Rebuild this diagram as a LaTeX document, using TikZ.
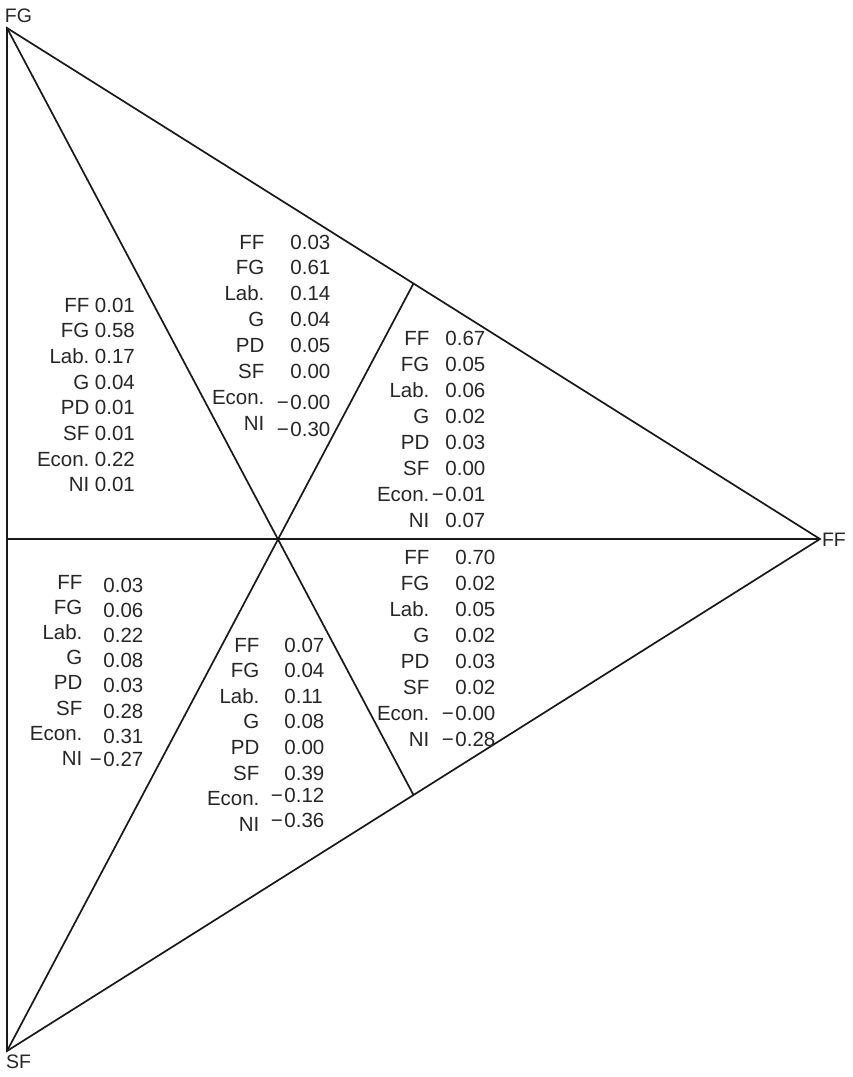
\documentclass[tikz,border=0pt]{standalone}
\usepackage{fontspec}
\setmainfont{Liberation Sans}
\usepackage{array}
\newcommand{\mn}{\llap{−\kern1.5pt}}
\newcommand{\dn}[2]{\raisebox{-#1pt}{#2}}
\newcommand{\blk}[3]{{\fontsize{20.5}{#2}\selectfont\begin{tabular}[t]{@{}r@{\hspace{#1pt}}l@{}}#3\end{tabular}}}
\tikzset{
  edge/.style={line width=1.7pt, black!90},
  blkn/.style={inner sep=0pt, outer sep=0pt, anchor=base west, text=black!85},
  vlab/.style={inner sep=0pt, outer sep=0pt, anchor=base west, font=\fontsize{19.5}{24}\selectfont, text=black!85}
}
\begin{document}
\begin{tikzpicture}[x=1pt,y=-1pt]
\useasboundingbox (0,0) rectangle (853,1077);
\coordinate (FG) at (7,28);
\coordinate (FF) at (820,539);
\coordinate (SF) at (7,1051);
\coordinate (mA) at (413.5,283.5);
\coordinate (mB) at (413.5,795);
\coordinate (mC) at (7,539);
\draw[edge, line join=miter] (FG) -- (FF) -- (SF) -- cycle;
\draw[edge] (FG) -- (mB);
\draw[edge] (SF) -- (mA);
\draw[edge] (mC) -- (FF);
\node[vlab] (tFG) at (5,22) {FG};
\node[vlab] (tSF) at (6,1068) {SF};
\node[vlab] (tFF) at (822,546) {FF};
% top-left
\node[blkn] (bA) at (37,312) {\blk{5.5}{25.7}{FF & 0.01\\ FG & 0.58\\ Lab. & 0.17\\ G & 0.04\\ PD & 0.01\\ SF & 0.01\\ Econ. & 0.22\\ NI & 0.01}};
% top-middle
\node[blkn] (bB) at (212,249) {\blk{26}{25.9}{FF & 0.03\\ FG & 0.61\\ Lab. & 0.14\\ G & 0.04\\ PD & 0.05\\ SF & 0.00\\ Econ. & \dn{5}{\mn 0.00}\\ NI & \dn{6}{\mn 0.30}}};
% right upper
\node[blkn] (bC) at (377,345) {\blk{16}{26}{FF & 0.67\\ FG & 0.05\\ Lab. & 0.06\\ G & 0.02\\ PD & 0.03\\ SF & 0.00\\ Econ. & \mn 0.01\\ NI & 0.07}};
% right lower
\node[blkn] (bD) at (377,564) {\blk{26}{26.1}{FF & 0.70\\ FG & 0.02\\ Lab. & 0.05\\ G & 0.02\\ PD & 0.03\\ SF & 0.02\\ Econ. & \mn 0.00\\ NI & \mn 0.28}};
% bottom-left
\node[blkn] (bE) at (30,589) {\blk{21}{25.2}{FF & \dn{3}{0.03}\\ FG & \dn{3}{0.06}\\ Lab. & \dn{3}{0.22}\\ G & \dn{3}{0.08}\\ PD & \dn{3}{0.03}\\ SF & \dn{3}{0.28}\\ Econ. & \dn{3}{0.31}\\ NI & \dn{1}{\mn 0.27}}};
% bottom-middle
\node[blkn] (bF) at (207,652) {\blk{25}{25.6}{FF & 0.07\\ FG & 0.04\\ Lab. & 0.11\\ G & 0.08\\ PD & 0.00\\ SF & 0.39\\ Econ. & \dn{-3}{\mn 0.12}\\ NI & \dn{-4}{\mn 0.36}}};
\end{tikzpicture}
\end{document}
